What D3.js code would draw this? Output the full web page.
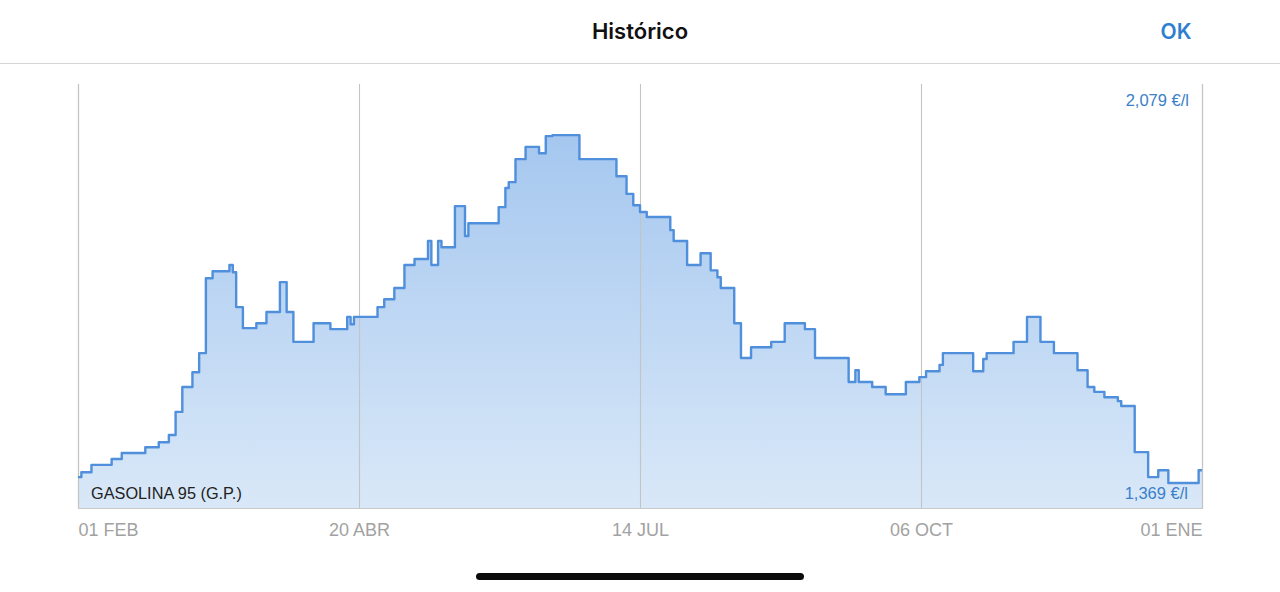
<!DOCTYPE html>
<html><head><meta charset="utf-8">
<script src="https://cdn.jsdelivr.net/npm/d3@7"></script>
<style>
html,body{margin:0;padding:0;background:#fff;}
svg{display:block;}
</style></head>
<body>
<svg id="chart" width="1280" height="592"></svg>
<script>
// ---- data ----
const title = "Histórico";
const seriesName = "GASOLINA 95 (G.P.)";
const unit = "€/l";
const dates = ["2022-02-01","2022-02-02","2022-02-05","2022-02-11","2022-02-14","2022-02-21","2022-02-25","2022-02-28",
"2022-03-02","2022-03-04","2022-03-07","2022-03-09","2022-03-11","2022-03-13","2022-03-18","2022-03-19","2022-03-20",
"2022-03-22","2022-03-26","2022-03-29","2022-04-02","2022-04-04","2022-04-06","2022-04-12","2022-04-17","2022-04-22",
"2022-04-23","2022-04-24","2022-05-01","2022-05-03","2022-05-06","2022-05-09","2022-05-12","2022-05-16","2022-05-17",
"2022-05-19","2022-05-20","2022-05-24","2022-05-27","2022-05-28","2022-06-06","2022-06-08","2022-06-09","2022-06-11",
"2022-06-14","2022-06-18","2022-06-20","2022-06-22","2022-06-30","2022-07-11","2022-07-14","2022-07-16","2022-07-18",
"2022-07-20","2022-07-27","2022-07-28","2022-08-01","2022-08-05","2022-08-08","2022-08-10","2022-08-11","2022-08-15",
"2022-08-17","2022-08-20","2022-08-26","2022-08-30","2022-09-05","2022-09-08","2022-09-18","2022-09-20","2022-09-21",
"2022-09-25","2022-09-29","2022-10-05","2022-10-09","2022-10-11","2022-10-15","2022-10-16","2022-10-25","2022-10-28",
"2022-10-29","2022-11-06","2022-11-10","2022-11-14","2022-11-18","2022-11-25","2022-11-28","2022-11-30","2022-12-03",
"2022-12-07","2022-12-08","2022-12-12","2022-12-16","2022-12-19","2022-12-22","2022-12-31","2023-01-01"];
const prices = [1.381,1.391,1.406,1.418,1.430,1.442,1.452,1.467,
1.514,1.565,1.595,1.634,1.787,1.801,1.814,1.799,1.728,
1.685,1.695,1.718,1.779,1.718,1.657,1.695,1.683,1.708,
1.693,1.708,1.728,1.744,1.767,1.814,1.826,1.863,1.814,
1.863,1.850,1.934,1.873,1.899,1.932,1.971,1.983,2.030,
2.055,2.042,2.077,2.079,2.030,1.995,1.959,1.936,1.922,
1.912,1.885,1.863,1.814,1.838,1.803,1.789,1.767,1.695,
1.624,1.646,1.657,1.695,1.683,1.624,1.575,1.599,1.575,
1.565,1.550,1.575,1.585,1.597,1.610,1.634,1.597,1.622,
1.634,1.657,1.708,1.657,1.634,1.599,1.565,1.555,1.544,
1.536,1.526,1.432,1.381,1.395,1.369,1.395,1.395];
const tickLabels = ["01 FEB","20 ABR","14 JUL","06 OCT","01 ENE"];

// ---- chart ----
const svg = d3.select("#chart");
const W = 1280;
const m = {left:78, right:78, top:84, bottom:84};
const x0 = m.left, x1 = W - m.right, yTop = m.top, yBot = 508;

const parse = d3.timeParse("%Y-%m-%d");
const data = dates.map((d,i)=>({date:parse(d), v:prices[i]}));
const vMin = d3.min(prices), vMax = d3.max(prices), span = vMax - vMin;

const x = d3.scaleTime().domain(d3.extent(data, d=>d.date)).range([x0, x1]);
const y = d3.scaleLinear().domain([vMin - span*0.072, vMax + span*0.147]).range([yBot, yTop]);

const loc = d3.formatLocale({decimal:",", thousands:".", grouping:[3], currency:["","€"]});
const fmt = loc.format(".3f");
const FONT = "'Liberation Sans', Arial, sans-serif";

// header
svg.append("text").attr("x", 640).attr("y", 39).attr("text-anchor","middle")
  .attr("font-family","Inter, 'Open Sans', sans-serif").attr("font-weight",600)
  .attr("font-size",22).attr("fill","#111").text(title);
svg.append("text").attr("x", 1176).attr("y", 39).attr("text-anchor","middle")
  .attr("font-family","Inter, 'Open Sans', sans-serif").attr("font-weight",600)
  .attr("font-size",21).attr("fill","#2f7fd1").text("OK");
svg.append("line").attr("x1",0).attr("x2",W).attr("y1",63.5).attr("y2",63.5)
  .attr("stroke","#d4d4d4").attr("stroke-width",1.2);

// gradient
const defs = svg.append("defs");
const grad = defs.append("linearGradient").attr("id","fillGrad")
  .attr("gradientUnits","userSpaceOnUse").attr("x1",0).attr("x2",0)
  .attr("y1", y(vMax)).attr("y2", yBot);
grad.append("stop").attr("offset","0%").attr("stop-color","#a5c7ef");
grad.append("stop").attr("offset","100%").attr("stop-color","#d9e8f8");

// area & line
const area = d3.area().x(d=>x(d.date)).y0(yBot).y1(d=>y(d.v)).curve(d3.curveStepAfter);
const line = d3.line().x(d=>x(d.date)).y(d=>y(d.v)).curve(d3.curveStepAfter);

svg.append("path").datum(data).attr("d", area).attr("fill","url(#fillGrad)");

// grid / ticks
const tickDates = tickLabels.map((_,i)=>d3.interpolateDate(x.domain()[0], x.domain()[1])(i/(tickLabels.length-1)));
const xAxis = d3.axisBottom(x).tickValues(tickDates).tickSize(-(yBot - yTop))
  .tickFormat((d,i)=>tickLabels[i]);
const gx = svg.append("g").attr("transform",`translate(0,${yBot})`).call(xAxis);
gx.select(".domain").attr("stroke","#c8c8c8").attr("stroke-width",1.2);
gx.selectAll(".tick line").attr("stroke","#c4c4c4").attr("stroke-width",1.1);
gx.selectAll(".tick text").attr("font-family",FONT)
  .attr("font-size",18).attr("fill","#a2a2a2").attr("y",28).attr("dy",0)
  .attr("text-anchor",(d,i)=> i===0 ? "start" : (i===tickLabels.length-1 ? "end" : "middle"));

svg.append("path").datum(data).attr("d", line).attr("fill","none")
  .attr("stroke","#4f8fdb").attr("stroke-width",2.4).attr("stroke-linejoin","round");

// labels
svg.append("text").attr("x", 1189).attr("y", 106).attr("text-anchor","end")
  .attr("font-family",FONT).attr("font-size",16.5)
  .attr("fill","#3a80c9").text(`${fmt(vMax)} ${unit}`);
svg.append("text").attr("x", 1188).attr("y", 498.5).attr("text-anchor","end")
  .attr("font-family",FONT).attr("font-size",16.5)
  .attr("fill","#3a80c9").text(`${fmt(vMin)} ${unit}`);
svg.append("text").attr("x", 91).attr("y", 499).attr("text-anchor","start")
  .attr("font-family",FONT).attr("font-size",16.3)
  .attr("fill","#222").text(seriesName);

// home indicator
svg.append("rect").attr("x",476).attr("y",573).attr("width",328).attr("height",7)
  .attr("rx",3.5).attr("fill","#0b0b0b");
</script>
</body></html>
